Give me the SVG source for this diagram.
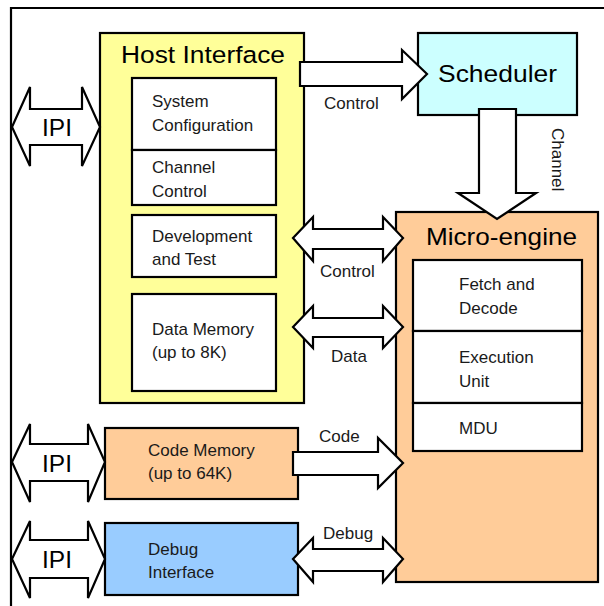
<svg xmlns="http://www.w3.org/2000/svg" width="604" height="606" viewBox="0 0 604 606">
<style>
.box{stroke:#000;stroke-width:2.2}
.arr{fill:#fff;stroke:#000;stroke-width:2.2;stroke-linejoin:miter}
.big{font-family:"Liberation Sans",Arial,sans-serif;font-size:24.5px;fill:#000}
.sm{font-family:"Liberation Sans",Arial,sans-serif;font-size:17px;fill:#1a1a1a}
</style>
<rect width="604" height="606" fill="#fff"/>
<g id="frame"><path d="M11,606 L11,8 L604,8" fill="none" stroke="#000" stroke-width="2.2"/></g>
<g id="host-interface">
<rect class="box" x="100" y="33" width="204" height="370" fill="#FFFF99"/>
<text class="big" x="121" y="63" textLength="164" lengthAdjust="spacingAndGlyphs">Host Interface</text>
</g>
<g id="system-configuration">
<rect class="box" x="132" y="78" width="144" height="72" fill="#fff"/>
<text class="sm" x="152" y="107">System</text>
<text class="sm" x="152" y="131">Configuration</text>
</g>
<g id="channel-control">
<rect class="box" x="132" y="150" width="144" height="55" fill="#fff"/>
<text class="sm" x="152" y="173">Channel</text>
<text class="sm" x="152" y="197">Control</text>
</g>
<g id="development-test">
<rect class="box" x="132" y="215" width="144" height="62" fill="#fff"/>
<text class="sm" x="152" y="242">Development</text>
<text class="sm" x="152" y="265">and Test</text>
</g>
<g id="data-memory">
<rect class="box" x="132" y="294" width="144" height="97" fill="#fff"/>
<text class="sm" x="152" y="335">Data Memory</text>
<text class="sm" x="152" y="358">(up to 8K)</text>
</g>
<g id="scheduler">
<rect class="box" x="418" y="33" width="159" height="82" fill="#CCFFFF"/>
<text class="big" x="438" y="82" textLength="119" lengthAdjust="spacingAndGlyphs">Scheduler</text>
</g>
<g id="micro-engine">
<rect class="box" x="396" y="212" width="202" height="370" fill="#FFCC99"/>
<text class="big" x="426" y="245" textLength="151" lengthAdjust="spacingAndGlyphs">Micro-engine</text>
<rect class="box" x="413" y="260" width="169" height="71" fill="#fff"/>
<rect class="box" x="413" y="331" width="169" height="72" fill="#fff"/>
<rect class="box" x="413" y="403" width="169" height="48" fill="#fff"/>
<text class="sm" x="459" y="290">Fetch and</text>
<text class="sm" x="459" y="314">Decode</text>
<text class="sm" x="459" y="363">Execution</text>
<text class="sm" x="459" y="387">Unit</text>
<text class="sm" x="459" y="434">MDU</text>
</g>
<g id="code-memory">
<rect class="box" x="105" y="428" width="193" height="71" fill="#FFCC99"/>
<text class="sm" x="148" y="456">Code Memory</text>
<text class="sm" x="148" y="479">(up to 64K)</text>
</g>
<g id="debug-interface">
<rect class="box" x="105" y="523" width="193" height="72" fill="#99CCFF"/>
<text class="sm" x="148" y="555">Debug</text>
<text class="sm" x="148" y="578">Interface</text>
</g>
<g id="connectors">
<path class="arr" d="M12,127 L30,87 L30,109 L82,109 L82,87 L100,127 L82,166 L82,145 L30,145 L30,166 Z"/>
<text class="big" x="42" y="136">IPI</text>
<path class="arr" d="M12,462 L30,424 L30,444 L88,444 L88,424 L105,462 L88,502 L88,481 L30,481 L30,502 Z"/>
<text class="big" x="42" y="472">IPI</text>
<path class="arr" d="M12,559 L30,521 L30,540 L88,540 L88,521 L105,559 L88,598 L88,578 L30,578 L30,598 Z"/>
<text class="big" x="42" y="568">IPI</text>
<path class="arr" d="M300,62 L402,62 L402,50 L427,74 L402,99 L402,86 L300,86 Z"/>
<text class="sm" x="324" y="109">Control</text>
<path class="arr" d="M479,109 L516,109 L516,193 L536,193 L497,219 L458,193 L479,193 Z"/>
<text class="sm" transform="translate(552,128) rotate(90)">Channel</text>
<path class="arr" d="M293,238 L313,217 L313,229 L383,229 L383,217 L403,238 L383,261 L383,249 L313,249 L313,261 Z"/>
<text class="sm" x="320" y="277">Control</text>
<path class="arr" d="M293,327 L313,306 L313,318 L383,318 L383,306 L403,327 L383,348 L383,337 L313,337 L313,348 Z"/>
<text class="sm" x="331" y="362">Data</text>
<path class="arr" d="M293,452 L378,452 L378,438 L403,463 L378,488 L378,475 L293,475 Z"/>
<text class="sm" x="319" y="442">Code</text>
<path class="arr" d="M293,559 L313,538 L313,549 L383,549 L383,538 L403,559 L383,582 L383,571 L313,571 L313,582 Z"/>
<text class="sm" x="323" y="539">Debug</text>
</g>
</svg>
